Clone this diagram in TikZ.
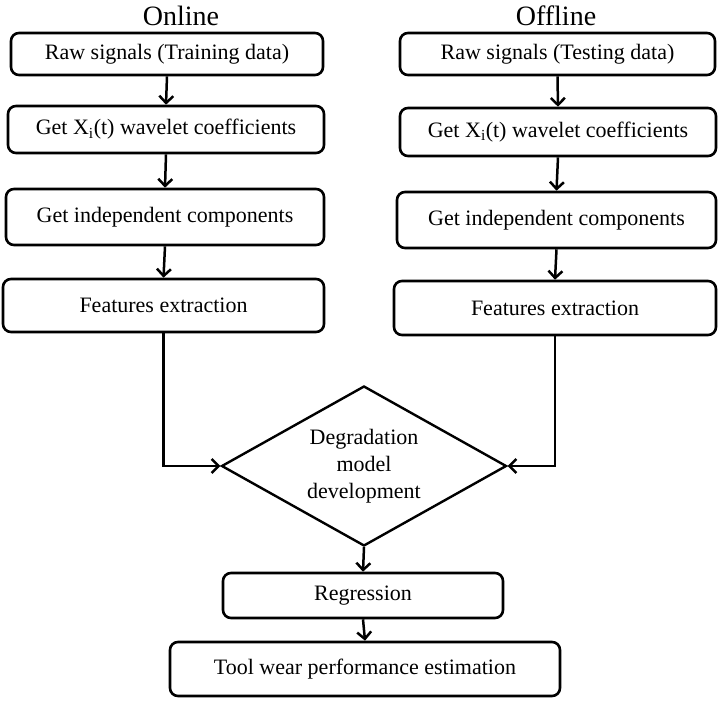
\documentclass[tikz,border=0pt]{standalone}
\usepackage{fontspec}
\setmainfont{Liberation Serif}
\usetikzlibrary{arrows.meta,shapes.geometric}
\begin{document}
\begin{tikzpicture}[x=1pt,y=-1pt,
  box/.style={draw,line width=2.6pt,rounded corners=8pt,inner sep=0pt,font=\fontsize{22}{26}\selectfont,text=black},
  dia/.style={draw,diamond,line width=2.4pt,inner sep=0pt,minimum width=285pt,minimum height=160pt,aspect=1.78,align=center,font=\fontsize{22}{27}\selectfont},
  arr/.style={line width=2.5pt,-{Straight Barb[length=7pt,width=14pt,line width=2.5pt]}},
  ttl/.style={font=\fontsize{28}{30}\selectfont,inner sep=0pt}]
\useasboundingbox (0,0) rectangle (723,703);
\node[ttl] (on) at (181,16) {Online};
\node[ttl] (off) at (556,16) {Offline};
\node[box,minimum width=312pt,minimum height=42pt] (L1) at (167,54) {Raw signals (Training data)};
\node[box,minimum width=316pt,minimum height=47pt] (L2) at (166,129.5) {Get X\textsubscript{i}(t) wavelet coefficients};
\node[box,minimum width=318pt,minimum height=56pt] (L3) at (165,217) {Get independent components};
\node[box,minimum width=321pt,minimum height=53pt] (L4) at (163.5,305.5) {Features extraction};
\node[box,minimum width=315pt,minimum height=42pt] (R1) at (557.5,54) {Raw signals (Testing data)};
\node[box,minimum width=316pt,minimum height=48pt] (R2) at (558,132) {Get X\textsubscript{i}(t) wavelet coefficients};
\node[box,minimum width=319pt,minimum height=56pt] (R3) at (556.5,220) {Get independent components};
\node[box,minimum width=322pt,minimum height=54pt] (R4) at (555,308) {Features extraction};
\node[dia] (D) at (364,466) {Degradation\\model\\development};
\node[box,minimum width=280pt,minimum height=45pt] (Reg) at (363,595.5) {Regression};
\node[box,minimum width=390pt,minimum height=54pt] (Tool) at (365,669) {Tool wear performance estimation};
\draw[arr] (L1.south) -- (L2.north);
\draw[arr] (L2.south) -- (L3.north);
\draw[arr] (L3.south) -- (L4.north);
\draw[arr] (R1.south) -- (R2.north);
\draw[arr] (R2.south) -- (R3.north);
\draw[arr] (R3.south) -- (R4.north);
\draw[arr] (L4.south) |- (D.west);
\draw[arr] (R4.south) |- (D.east);
\draw[arr] (D.south) -- (Reg.north);
\draw[arr] (Reg.south) -- (Tool.north);
\end{tikzpicture}
\end{document}
